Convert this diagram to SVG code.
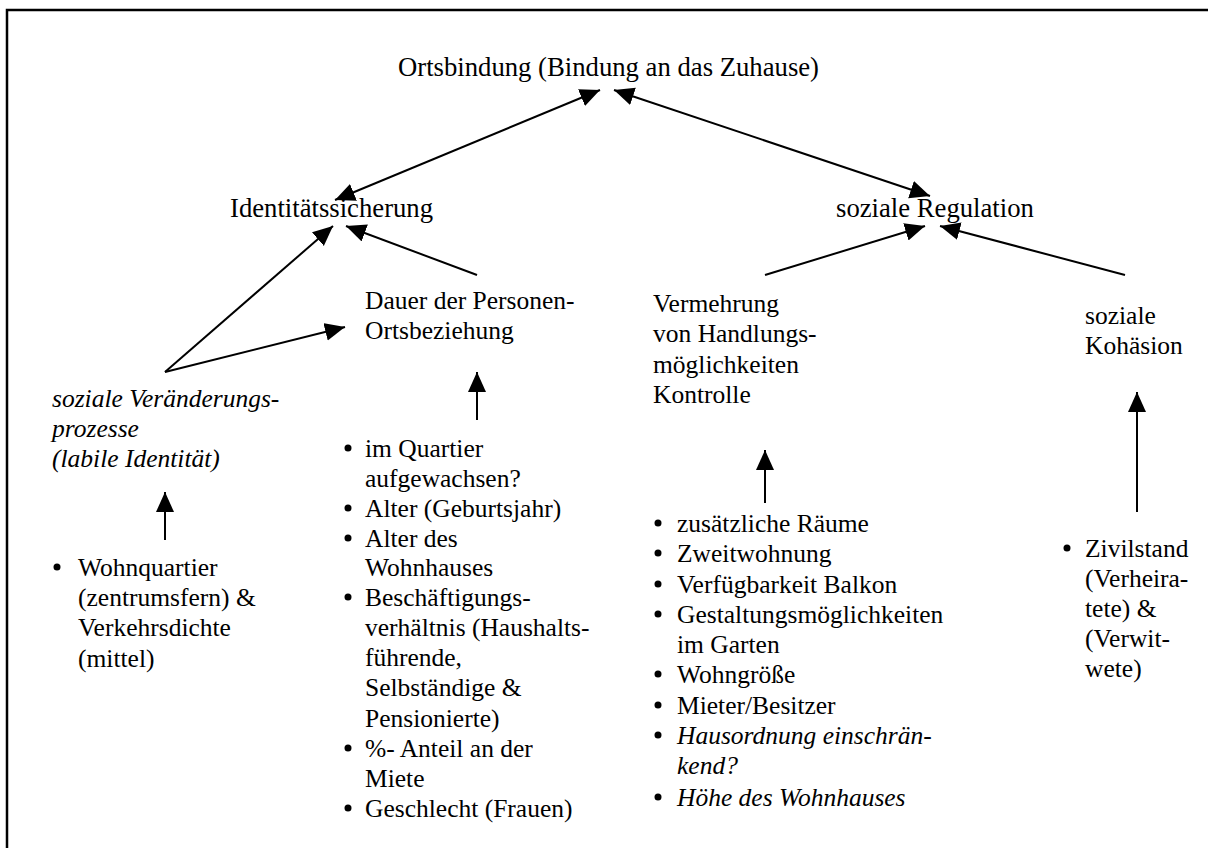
<svg xmlns="http://www.w3.org/2000/svg" width="1208" height="848" viewBox="0 0 1208 848" font-family="'Liberation Serif', 'Times New Roman', serif">
<style>
text{font-family:"Liberation Serif","Times New Roman",serif;font-size:25.5px;fill:#000}
.h{font-size:26.7px}
.i{font-style:italic}
.c{stroke:#000;stroke-width:2;fill:none}
.b{fill:#000}
</style>
<defs>
<marker id="ah" markerUnits="userSpaceOnUse" markerWidth="22" markerHeight="20" refX="20" refY="9" orient="auto-start-reverse" viewBox="0 0 22 20">
<path d="M0,0 L20,9 L0,18 z" fill="#000"/>
</marker>
</defs>
<rect width="1208" height="848" fill="#fff"/>
<path d="M7,848 V10 H1208" stroke="#000" stroke-width="2.5" fill="none"/>
<g id="connectors">
<line class="c" x1="600" y1="90" x2="335" y2="200" marker-start="url(#ah)" marker-end="url(#ah)"/>
<line class="c" x1="614" y1="90" x2="930" y2="196" marker-start="url(#ah)" marker-end="url(#ah)"/>
<line class="c" x1="165" y1="372" x2="333" y2="226" marker-end="url(#ah)"/>
<line class="c" x1="477" y1="275" x2="346" y2="226" marker-end="url(#ah)"/>
<line class="c" x1="165" y1="372" x2="345" y2="327" marker-end="url(#ah)"/>
<line class="c" x1="165" y1="540" x2="165" y2="492" marker-end="url(#ah)"/>
<line class="c" x1="477" y1="420" x2="477" y2="372" marker-end="url(#ah)"/>
<line class="c" x1="765" y1="275" x2="925" y2="226" marker-end="url(#ah)"/>
<line class="c" x1="1125" y1="275" x2="940" y2="226" marker-end="url(#ah)"/>
<line class="c" x1="765" y1="503" x2="765" y2="450" marker-end="url(#ah)"/>
<line class="c" x1="1137" y1="512" x2="1137" y2="392" marker-end="url(#ah)"/>
</g>
<g id="ortsbindung"><text class="h" x="398" y="76">Ortsbindung (Bindung an das Zuhause)</text></g>
<g id="identitaet"><text class="h" x="230" y="217">Identitätssicherung</text></g>
<g id="regulation"><text class="h" x="836" y="217">soziale Regulation</text></g>
<g id="dauer"><text x="365" y="309">Dauer der Personen-</text><text x="365" y="339">Ortsbeziehung</text></g>
<g id="veraenderung"><text class="i" x="52" y="407">soziale Veränderungs-</text><text class="i" x="52" y="437">prozesse</text><text class="i" x="52" y="467">(labile Identität)</text></g>
<g id="vermehrung"><text x="653" y="312">Vermehrung</text><text x="653" y="342">von Handlungs-</text><text x="653" y="373">möglichkeiten</text><text x="653" y="403">Kontrolle</text></g>
<g id="kohaesion"><text x="1085" y="324">soziale</text><text x="1085" y="354">Kohäsion</text></g>
<g id="list-wohnquartier">
<circle class="b" cx="57" cy="567" r="3.5"/>
<text x="78" y="576">Wohnquartier</text><text x="78" y="606">(zentrumsfern) &amp;</text><text x="78" y="636">Verkehrsdichte</text><text x="78" y="667">(mittel)</text>
</g>
<g id="list-dauer">
<circle class="b" cx="348" cy="448" r="3.5"/><text x="365" y="457">im Quartier</text><text x="365" y="487">aufgewachsen?</text>
<circle class="b" cx="348" cy="508" r="3.5"/><text x="365" y="517">Alter (Geburtsjahr)</text>
<circle class="b" cx="348" cy="538" r="3.5"/><text x="365" y="547">Alter des</text><text x="365" y="576">Wohnhauses</text>
<circle class="b" cx="348" cy="597" r="3.5"/><text x="365" y="606">Beschäftigungs-</text><text x="365" y="636">verhältnis (Haushalts-</text><text x="365" y="666">führende,</text><text x="365" y="696">Selbständige &amp;</text><text x="365" y="727">Pensionierte)</text>
<circle class="b" cx="348" cy="748" r="3.5"/><text x="365" y="757">%- Anteil an der</text><text x="365" y="787">Miete</text>
<circle class="b" cx="348" cy="808" r="3.5"/><text x="365" y="817">Geschlecht (Frauen)</text>
</g>
<g id="list-vermehrung">
<circle class="b" cx="658" cy="523" r="3.5"/><text x="677" y="532">zusätzliche Räume</text>
<circle class="b" cx="658" cy="553" r="3.5"/><text x="677" y="562">Zweitwohnung</text>
<circle class="b" cx="658" cy="584" r="3.5"/><text x="677" y="593">Verfügbarkeit Balkon</text>
<circle class="b" cx="658" cy="614" r="3.5"/><text x="677" y="623">Gestaltungsmöglichkeiten</text><text x="677" y="653">im Garten</text>
<circle class="b" cx="658" cy="674" r="3.5"/><text x="677" y="683">Wohngröße</text>
<circle class="b" cx="658" cy="705" r="3.5"/><text x="677" y="714">Mieter/Besitzer</text>
<circle class="b" cx="658" cy="735" r="3.5"/><text class="i" x="677" y="744">Hausordnung einschrän-</text><text class="i" x="677" y="774">kend?</text>
<circle class="b" cx="658" cy="797" r="3.5"/><text class="i" x="677" y="806">Höhe des Wohnhauses</text>
</g>
<g id="list-kohaesion">
<circle class="b" cx="1067" cy="548" r="3.5"/><text x="1085" y="557">Zivilstand</text><text x="1085" y="587">(Verheira-</text><text x="1085" y="617">tete) &amp;</text><text x="1085" y="647">(Verwit-</text><text x="1085" y="677">wete)</text>
</g>
</svg>
